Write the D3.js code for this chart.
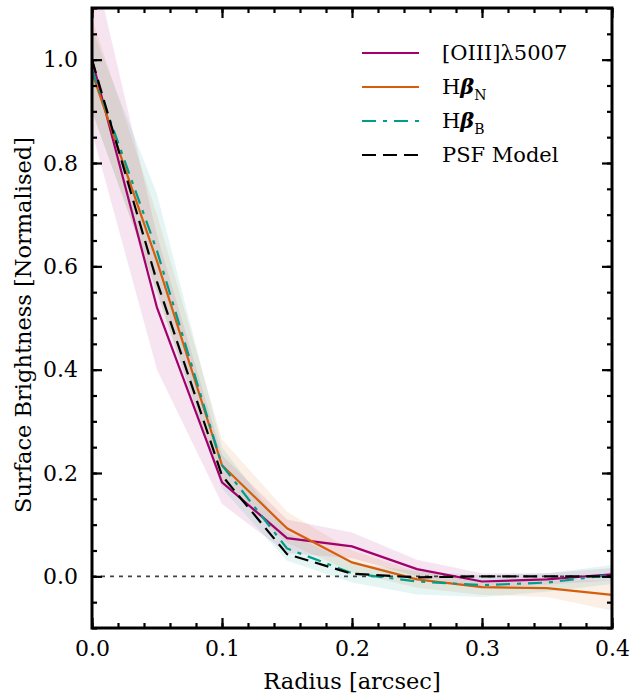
<!doctype html>
<html lang="en">
<head>
  <meta charset="utf-8">
  <title>Surface brightness profiles</title>
  <style>
    * { margin: 0; padding: 0; box-sizing: border-box; }
    body { background: #fff; }
    text { font-family: "DejaVu Serif", serif; fill: #000; }
  </style>
</head>
<body>
  <div id="container"></div>
  <script src="https://cdn.jsdelivr.net/npm/d3@7/dist/d3.min.js"></script>
  <script>
    // radius in arcsec
    const radius = [0, 0.05, 0.1, 0.15, 0.2, 0.25, 0.3, 0.35, 0.4];

    const oiii    = [1.0, 0.52, 0.182, 0.074, 0.058, 0.014, -0.010, -0.006, 0.004];
    const oiiiLo  = [0.86, 0.40, 0.14, 0.045, 0.035, 0.000, -0.022, -0.016, -0.008];
    const oiiiHi  = [1.20, 0.66, 0.235, 0.11, 0.085, 0.032, 0.006, 0.006, 0.016];

    const hbN     = [0.975, 0.61, 0.215, 0.093, 0.027, -0.006, -0.021, -0.023, -0.036];
    const hbNLo   = [0.90, 0.55, 0.18, 0.065, 0.008, -0.022, -0.036, -0.040, -0.066];
    const hbNHi   = [1.08, 0.70, 0.265, 0.125, 0.05, 0.010, -0.008, -0.008, -0.008];

    const hbB     = [0.98, 0.63, 0.215, 0.054, 0.006, -0.010, -0.017, -0.012, 0.003];
    const hbBLo   = [0.90, 0.55, 0.17, 0.030, -0.012, -0.035, -0.040, -0.030, -0.015];
    const hbBHi   = [1.06, 0.74, 0.25, 0.085, 0.025, 0.010, 0.002, 0.006, 0.022];

    const psf     = [1.0, 0.57, 0.195, 0.043, 0.005, -0.002, 0.0, 0.0, 0.0];

    const xTicks = [0, 0.1, 0.2, 0.3, 0.4];
    const yTicks = [0, 0.2, 0.4, 0.6, 0.8, 1.0];

    const W = 631, H = 695;
    const m = { left: 92, right: 19, top: 8, bottom: 67 };

    const svg = d3.select('#container').append('svg')
      .attr('width', W).attr('height', H);

    const x = d3.scaleLinear().domain([0, 0.4]).range([m.left, W - m.right]);
    const y = d3.scaleLinear().domain([-0.1, 1.1]).range([H - m.bottom, m.top]);

    const series = [
      { name: 'oiii', v: oiii, lo: oiiiLo, hi: oiiiHi, color: '#a3006e', dash: null },
      { name: 'hbN',  v: hbN,  lo: hbNLo,  hi: hbNHi,  color: '#d55e0c', dash: null },
      { name: 'hbB',  v: hbB,  lo: hbBLo,  hi: hbBHi,  color: '#009e8a', dash: '14,7,4,7' },
      { name: 'psf',  v: psf,  lo: null,   hi: null,   color: '#000000', dash: '14,7' }
    ];

    svg.append('clipPath').attr('id', 'clip')
      .append('rect').attr('x', m.left).attr('y', m.top)
      .attr('width', W - m.left - m.right).attr('height', H - m.top - m.bottom);

    const plot = svg.append('g').attr('clip-path', 'url(#clip)');

    // bands
    series.filter(s => s.lo).forEach(s => {
      const area = d3.area()
        .x((d, i) => x(radius[i]))
        .y0((d, i) => y(s.lo[i]))
        .y1((d, i) => y(s.hi[i]));
      plot.append('path').datum(radius)
        .attr('d', area)
        .attr('fill', s.color)
        .attr('fill-opacity', 0.1);
    });

    // zero line
    plot.append('line')
      .attr('x1', x(0)).attr('x2', x(0.4))
      .attr('y1', y(0)).attr('y2', y(0))
      .attr('stroke', '#444').attr('stroke-width', 1.6)
      .attr('stroke-dasharray', '4,5');

    // lines
    series.forEach(s => {
      const line = d3.line().x((d, i) => x(radius[i])).y(d => y(d));
      plot.append('path').datum(s.v)
        .attr('d', line)
        .attr('fill', 'none')
        .attr('stroke', s.color)
        .attr('stroke-width', 2.2)
        .attr('stroke-dasharray', s.dash);
    });

    // axes, ticks pointing inward on all four sides
    const fs = 21, tfs = 22, lfs = 22.5;
    const xMinor = d3.range(0, 0.4001, 0.02);
    const yMinor = d3.range(-0.1, 1.1001, 0.05);

    const bAx = svg.append('g').attr('transform', `translate(0,${H - m.bottom})`);
    bAx.call(d3.axisBottom(x).tickValues(xMinor).tickSize(-5).tickFormat(''));
    bAx.append('g').call(d3.axisBottom(x).tickValues(xTicks).tickSize(-10)
      .tickFormat(d3.format('.1f')).tickPadding(12));
    const tAx = svg.append('g').attr('transform', `translate(0,${m.top})`);
    tAx.call(d3.axisTop(x).tickValues(xMinor).tickSize(-5).tickFormat(''));
    tAx.append('g').call(d3.axisTop(x).tickValues(xTicks).tickSize(-10).tickFormat(''));
    const lAx = svg.append('g').attr('transform', `translate(${m.left},0)`);
    lAx.call(d3.axisLeft(y).tickValues(yMinor).tickSize(-5).tickFormat(''));
    lAx.append('g').call(d3.axisLeft(y).tickValues(yTicks).tickSize(-10)
      .tickFormat(d3.format('.1f')).tickPadding(14));
    const rAx = svg.append('g').attr('transform', `translate(${W - m.right},0)`);
    rAx.call(d3.axisRight(y).tickValues(yMinor).tickSize(-5).tickFormat(''));
    rAx.append('g').call(d3.axisRight(y).tickValues(yTicks).tickSize(-10).tickFormat(''));

    [bAx, tAx, lAx, rAx].forEach(g => {
      g.selectAll('.domain').remove();
      g.selectAll('line').attr('stroke', '#000').attr('stroke-width', 2.2);
      g.selectAll('text').attr('fill', '#000')
        .style('font-size', tfs + 'px').style('font-family', '"DejaVu Serif", serif');
    });

    // frame
    svg.append('rect')
      .attr('x', m.left).attr('y', m.top)
      .attr('width', W - m.left - m.right).attr('height', H - m.top - m.bottom)
      .attr('fill', 'none').attr('stroke', '#000').attr('stroke-width', 3);

    // axis labels
    svg.append('text')
      .attr('x', (m.left + W - m.right) / 2).attr('y', 689)
      .attr('text-anchor', 'middle').style('font-size', lfs + 'px')
      .text('Radius [arcsec]');
    svg.append('text')
      .attr('transform', `translate(31,325) rotate(-90)`)
      .attr('text-anchor', 'middle').style('font-size', lfs + 'px')
      .text('Surface Brightness [Normalised]');

    // legend
    const legendRows = [
      { s: series[0], label: ['[OIII]λ5007'] },
      { s: series[1], label: ['H', 'β', 'N'] },
      { s: series[2], label: ['H', 'β', 'B'] },
      { s: series[3], label: ['PSF Model'] }
    ];
    const lg = svg.append('g');
    legendRows.forEach((r, i) => {
      const yy = 53 + i * 34;
      lg.append('line')
        .attr('x1', 362).attr('x2', 419).attr('y1', yy).attr('y2', yy)
        .attr('stroke', r.s.color).attr('stroke-width', 2.2)
        .attr('stroke-dasharray', r.s.dash);
      const t = lg.append('text').attr('x', 442).attr('y', yy + 7)
        .style('font-size', fs + 'px');
      if (r.label.length === 1) {
        t.text(r.label[0]);
      } else {
        t.append('tspan').text(r.label[0]);
        t.append('tspan').text(r.label[1]).style('font-style', 'italic').style('font-weight', 'bold');
        t.append('tspan').text(r.label[2]).attr('dy', 6).style('font-size', '14px');
      }
    });
  </script>
</body>
</html>
